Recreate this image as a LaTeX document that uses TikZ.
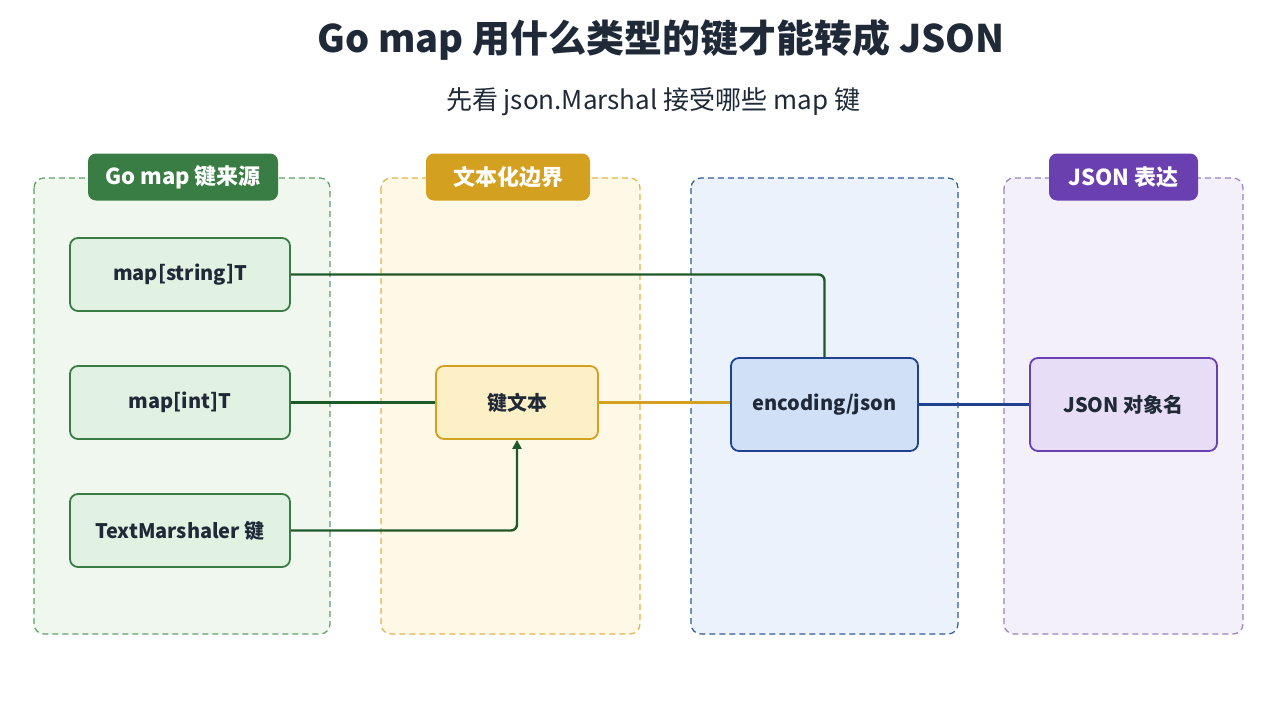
\documentclass[tikz,border=0pt]{standalone}
\usepackage{fontspec}
\setmainfont{Noto Sans CJK SC}
\usetikzlibrary{arrows.meta}
\definecolor{ink}{HTML}{1F2937}
\definecolor{gLaneF}{HTML}{EFF7EF}
\definecolor{gLaneD}{HTML}{5FA065}
\definecolor{gHead}{HTML}{3A7D44}
\definecolor{gNodeF}{HTML}{E2F2E2}
\definecolor{gLine}{HTML}{1E5A28}
\definecolor{yLaneF}{HTML}{FEF8E7}
\definecolor{yLaneD}{HTML}{E2B447}
\definecolor{yHead}{HTML}{D4A020}
\definecolor{yNodeF}{HTML}{FDEFC6}
\definecolor{bLaneF}{HTML}{EBF2FC}
\definecolor{bLaneD}{HTML}{2F5A9A}
\definecolor{bNodeF}{HTML}{CFE0F7}
\definecolor{bLine}{HTML}{1F4290}
\definecolor{pLaneF}{HTML}{F4F0FA}
\definecolor{pLaneD}{HTML}{9A80C0}
\definecolor{pHead}{HTML}{6A3FB0}
\definecolor{pNodeF}{HTML}{E7DDF6}
\tikzset{
  lane/.style={draw, dashed, dash pattern=on 6pt off 4pt, line width=1.2pt, rounded corners=10pt},
  head/.style={rounded corners=8pt, text=white, font=\fontsize{22}{26}\selectfont\bfseries, minimum height=47pt, inner sep=0pt},
  box/.style={draw, line width=1.8pt, rounded corners=8pt, text=ink, font=\fontsize{20}{24}\selectfont\bfseries, inner sep=0pt},
  conn/.style={line width=2.4pt, rounded corners=6pt},
}
\begin{document}
\begin{tikzpicture}[x=1pt,y=-1pt]
\path[use as bounding box, fill=white] (0,0) rectangle (1280,702);
% title
\node[text=ink, font=\fontsize{38}{44}\selectfont\bfseries] (title) at (661,40) {Go map 用什么类型的键才能转成 JSON};
\node[text=ink, font=\fontsize{26}{30}\selectfont] (sub) at (653,102) {先看 json.Marshal 接受哪些 map 键};
% lanes
\draw[lane, fill=gLaneF, draw=gLaneD] (34,178) rectangle (330,634);
\draw[lane, fill=yLaneF, draw=yLaneD] (381,178) rectangle (640,634);
\draw[lane, fill=bLaneF, draw=bLaneD] (691,178) rectangle (958,634);
\draw[lane, fill=pLaneF, draw=pLaneD] (1004,178) rectangle (1243,634);
% headers
\node[head, fill=gHead, minimum width=190pt] (hg) at (183,177) {Go map 键来源};
\node[head, fill=yHead, minimum width=164pt] (hy) at (508,177) {文本化边界};
\node[head, fill=pHead, minimum width=149pt] (hp) at (1123.5,177) {JSON 表达};
% nodes
\node[box, fill=gNodeF, draw=gHead, minimum width=220pt, minimum height=73pt] (ms) at (180,274.5) {map[string]T};
\node[box, fill=gNodeF, draw=gHead, minimum width=220pt, minimum height=73pt] (mi) at (180,402.5) {map[int]T};
\node[box, fill=gNodeF, draw=gHead, minimum width=220pt, minimum height=73pt] (tm) at (180,530.5) {TextMarshaler 键};
\node[box, fill=yNodeF, draw=yHead, minimum width=162pt, minimum height=73pt] (kt) at (517,402.5) {键文本};
\node[box, fill=bNodeF, draw=bLine, minimum width=187pt, minimum height=93pt] (ej) at (824.5,404.5) {encoding/json};
\node[box, fill=pNodeF, draw=pHead, minimum width=187pt, minimum height=93pt] (jo) at (1123.5,404.5) {JSON 对象名};
% connectors
\draw[conn, gLine] (ms.east) -- (ms.east -| ej.north) -- (ej.north);
\draw[conn, gLine] (mi.east) -- (kt.west);
\draw[conn, gLine, -{Triangle[length=9pt,width=9pt]}] (tm.east) -- (tm.east -| kt.south) -- (kt.south);
\draw[conn, yHead] (kt.east) -- (kt.east -| ej.west);
\draw[conn, bLine] (ej.east |- jo.west) -- (jo.west);
\end{tikzpicture}
\end{document}
